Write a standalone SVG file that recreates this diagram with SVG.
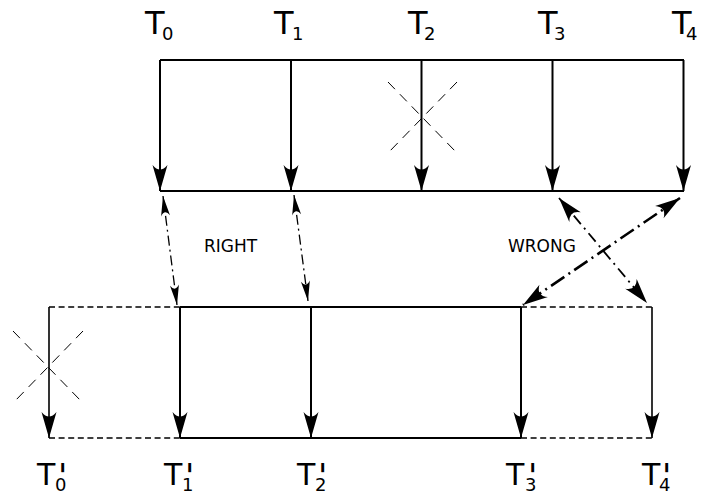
<svg xmlns="http://www.w3.org/2000/svg" width="703" height="493" viewBox="0 0 703 493">
<style>
  .t { font-family: "DejaVu Sans", "Liberation Sans", sans-serif; fill: #000; }
  .big { font-size: 32px; }
  .bigb { font-size: 30px; }
  .sub { font-size: 18px; }
  .pr { font-size: 34px; }
  .lbl { font-size: 17px; }
  .solid { stroke: #000; stroke-width: 2; fill: none; }
  .vert { stroke: #000; stroke-width: 2; fill: none; marker-end: url(#ah); }
  .dash { stroke: #000; stroke-width: 1.5; fill: none; stroke-dasharray: 6,3.6; }
  .xmark { stroke: #000; stroke-width: 1; fill: none; stroke-dasharray: 10,7; }
  .right { stroke: #000; stroke-width: 1.3; fill: none; stroke-dasharray: 10,4,2,4; marker-start: url(#sh); marker-end: url(#sh); }
  .wrongA { stroke: #000; stroke-width: 1.8; fill: none; stroke-dasharray: 11,5,2,5; marker-start: url(#mh); marker-end: url(#mh); }
  .wrongB { stroke: #000; stroke-width: 2.6; fill: none; stroke-dasharray: 16,5,2,5; marker-start: url(#mh); marker-end: url(#mh); }
</style>
<defs>
  <marker id="ah" markerUnits="userSpaceOnUse" orient="auto-start-reverse" refX="0" refY="0" markerWidth="30" markerHeight="20" viewBox="-28 -10 30 20" overflow="visible">
    <path d="M0,0 L-26,-7.5 Q-17,0 -26,7.5 Z" fill="#000"/>
  </marker>
  <marker id="sh" markerUnits="userSpaceOnUse" orient="auto-start-reverse" refX="0" refY="0" markerWidth="24" markerHeight="12" viewBox="-22 -6 24 12" overflow="visible">
    <path d="M0,0 L-20,-4.5 Q-13,0 -20,4.5 Z" fill="#000"/>
  </marker>
  <marker id="mh" markerUnits="userSpaceOnUse" orient="auto-start-reverse" refX="0" refY="0" markerWidth="30" markerHeight="16" viewBox="-28 -8 30 16" overflow="visible">
    <path d="M0,0 L-25,-7.5 Q-16,0 -25,7.5 Z" fill="#000"/>
  </marker>
</defs>
<rect width="703" height="493" fill="#fff"/>

<g id="top-frame">
  <line class="solid" x1="160" y1="60" x2="684" y2="60"/>
  <line class="solid" x1="160" y1="191" x2="684" y2="191"/>
</g>
<g id="T0"><line class="vert" x1="160" y1="60" x2="160" y2="191"/><text class="t big" x="145" y="34">T<tspan class="sub" x="162" y="40">0</tspan></text></g>
<g id="T1"><line class="vert" x1="291" y1="60" x2="291" y2="191"/><text class="t big" x="274" y="34">T<tspan class="sub" x="292" y="40">1</tspan></text></g>
<g id="T2"><line class="vert" x1="421.5" y1="60" x2="421.5" y2="191"/><text class="t big" x="408" y="34">T<tspan class="sub" x="424" y="40">2</tspan></text>
  <line class="xmark" x1="388" y1="82" x2="456" y2="152"/><line class="xmark" x1="457" y1="82" x2="388" y2="153"/></g>
<g id="T3"><line class="vert" x1="552.5" y1="60" x2="552.5" y2="191"/><text class="t big" x="538" y="34">T<tspan class="sub" x="554" y="40">3</tspan></text></g>
<g id="T4"><line class="vert" x1="683.5" y1="60" x2="683.5" y2="191"/><text class="t big" x="672" y="34">T<tspan class="sub" x="686" y="40">4</tspan></text></g>

<g id="bottom-frame">
  <line class="dash" x1="49" y1="307" x2="180" y2="307"/>
  <line class="solid" x1="180" y1="307" x2="521" y2="307"/>
  <line class="dash" x1="521" y1="307" x2="652" y2="307"/>
  <line class="dash" x1="49" y1="438" x2="180" y2="438"/>
  <line class="solid" x1="180" y1="438" x2="521" y2="438"/>
  <line class="dash" x1="521" y1="438" x2="652" y2="438"/>
</g>
<g id="Tp0"><line class="vert" x1="49" y1="307" x2="49" y2="438" style="stroke-width:1.6"/>
  <line class="xmark" x1="13" y1="331" x2="81" y2="401"/><line class="xmark" x1="83" y1="331" x2="14" y2="402"/>
  <text class="t bigb" x="37" y="485">T<tspan class="pr" x="58" y="488">'</tspan><tspan class="sub" x="55" y="491">0</tspan></text></g>
<g id="Tp1"><line class="vert" x1="180" y1="307" x2="180" y2="438"/><text class="t bigb" x="164" y="485">T<tspan class="pr" x="185" y="488">'</tspan><tspan class="sub" x="182" y="491">1</tspan></text></g>
<g id="Tp2"><line class="vert" x1="311" y1="307" x2="311" y2="438"/><text class="t bigb" x="297" y="485">T<tspan class="pr" x="318" y="488">'</tspan><tspan class="sub" x="315" y="491">2</tspan></text></g>
<g id="Tp3"><line class="vert" x1="521" y1="307" x2="521" y2="438"/><text class="t bigb" x="506" y="485">T<tspan class="pr" x="528" y="488">'</tspan><tspan class="sub" x="525" y="491">3</tspan></text></g>
<g id="Tp4"><line class="vert" x1="652" y1="307" x2="652" y2="438" style="stroke-width:1.6"/><text class="t bigb" x="642" y="485">T<tspan class="pr" x="662" y="488">'</tspan><tspan class="sub" x="659" y="491">4</tspan></text></g>

<g id="connectors">
  <line class="right" x1="163" y1="196" x2="177" y2="305"/>
  <line class="right" x1="294" y1="195" x2="308" y2="301"/>
  <line class="wrongA" x1="559" y1="198" x2="647" y2="303"/>
  <line class="wrongB" x1="680" y1="198" x2="523" y2="305"/>
</g>
<text class="t lbl" x="204" y="252">RIGHT</text>
<text class="t lbl" x="508" y="252">WRONG</text>
</svg>
